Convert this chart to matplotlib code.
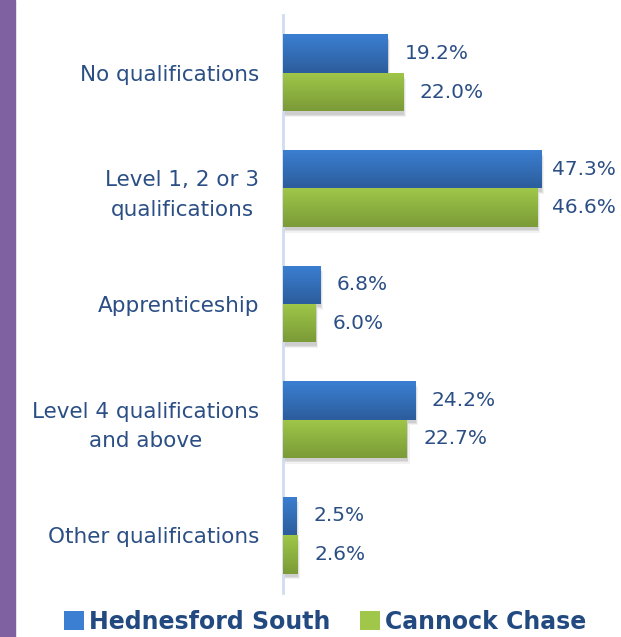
import matplotlib
matplotlib.use("Agg")
import matplotlib.pyplot as plt
import numpy as np
from matplotlib.patches import Rectangle, Patch
import matplotlib.colors as mcolors

categories = ["No qualifications", "Level 1, 2 or 3\nqualifications", "Apprenticeship",
              "Level 4 qualifications\nand above", "Other qualifications"]
hednesford = [19.2, 47.3, 6.8, 24.2, 2.5]
cannock = [22.0, 46.6, 6.0, 22.7, 2.6]
series_names = ["Hednesford South", "Cannock Chase"]

text_color = "#2B4F85"
blue_top, blue_bot = "#3B7FD2", "#2C5D9C"
green_top, green_bot = "#A0C749", "#7A9B37"

plt.rcParams['font.family'] = ['DejaVu Sans']

fig = plt.figure(figsize=(6.21, 6.37), dpi=100)
fig.patches.append(Rectangle((0, 0), 15/621, 1, transform=fig.transFigure,
                             color="#7F60A1", zorder=0))
ax = fig.add_axes([283/621, 44/637, (610-283)/621, (593-15)/637])

y = np.arange(len(categories))
h = 0.333

def grad_cmap(top, bot):
    return mcolors.LinearSegmentedColormap.from_list("g", [bot, top])

def draw(vals, offset, top, bot):
    bars = ax.barh(y + offset, vals, height=h, color=top, zorder=3)
    cmap = grad_cmap(top, bot)
    grad = np.linspace(1, 0, 64).reshape(-1, 1)
    for b in bars:
        x0, y0 = b.get_x(), b.get_y()
        w, hh = b.get_width(), b.get_height()
        for k, a in ((0.5, 0.05), (0.3, 0.07), (0.15, 0.08)):
            ax.add_patch(Rectangle((x0, y0 + 0.02 + k*0.06), w + k, hh, color="#000000",
                                   alpha=a, zorder=2, lw=0))
        im = ax.imshow(grad, cmap=cmap, aspect="auto",
                       extent=(x0, x0 + w, y0 + hh, y0), zorder=4,
                       interpolation="bilinear")
        im.set_clip_path(b)
    return bars

draw(hednesford, -h/2, blue_top, blue_bot)
draw(cannock, h/2, green_top, green_bot)

xmax = (610-283)/5.455
for vals, off in ((hednesford, -h/2), (cannock, h/2)):
    for yi, v in zip(y, vals):
        ax.text(min(v + 3.1, 49.3), yi + off, f"{v:.1f}%", va="center", ha="left",
                fontsize=14.5, color=text_color, zorder=5)

ax.set_xlim(0, xmax)
ax.set_ylim(len(categories) - 0.5, -0.5)
ax.set_yticks(y)
ax.set_yticklabels(categories, fontsize=15.5, color=text_color, ha="right",
                   multialignment="center", linespacing=1.6)
ax.tick_params(axis="y", length=0, pad=17)
ax.set_xticks([])
for s in ["top", "right", "bottom"]:
    ax.spines[s].set_visible(False)
ax.spines["left"].set_color("#CFDDF0")
ax.spines["left"].set_linewidth(2)
ax.set_facecolor("none")

handles = [Patch(facecolor=blue_top, edgecolor="none"), Patch(facecolor=green_top, edgecolor="none")]
leg = fig.legend(handles, series_names, loc="center", bbox_to_anchor=(325/621, 1 - 622/637),
                 ncol=2, frameon=False, handlelength=0.85, handleheight=0.85,
                 handletextpad=0.2, columnspacing=1.25,
                 prop={"weight": "bold", "size": 17})
for t in leg.get_texts():
    t.set_color("#224A80")

fig.savefig("out.png", dpi=100)
